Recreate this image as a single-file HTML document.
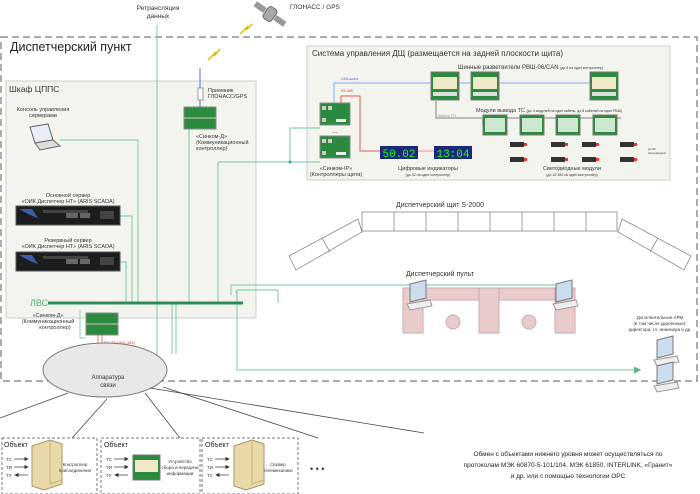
<!DOCTYPE html>
<html><head><meta charset="utf-8"><style>
body{margin:0;background:#fff;}
svg{display:block;font-family:"Liberation Sans",Arial,sans-serif;}
</style></head><body>
<svg width="700" height="494" viewBox="0 0 700 494" xmlns="http://www.w3.org/2000/svg">
<defs>
<marker id="ag" markerWidth="6" markerHeight="6" refX="5" refY="3" orient="auto"><path d="M0,0 L6,3 L0,6z" fill="#5fb88a"/></marker>
<marker id="ak" markerWidth="6" markerHeight="6" refX="5" refY="3" orient="auto"><path d="M0,0 L6,3 L0,6z" fill="#333"/></marker>
<g id="board"><rect width="30" height="22" fill="#2b8a3e" stroke="#888"/><rect x="2" y="3" width="4" height="4" fill="#ccc"/><rect x="8" y="3" width="4" height="4" fill="#ccc"/><rect x="2" y="15" width="4" height="4" fill="#ccc"/><rect x="16" y="16" width="10" height="3" fill="#eee"/></g>
<g id="rvsh"><rect width="28" height="28" fill="#2b8a3e" stroke="#777"/><rect x="2" y="5" width="24" height="12" fill="#efe9c8"/><rect x="2" y="20" width="24" height="4" fill="#ddd"/></g>
<g id="mod"><rect width="24" height="20" fill="#2b8a3e" stroke="#777"/><rect x="2" y="3" width="20" height="14" fill="#cde6cf"/></g>
<g id="led"><rect width="14" height="5" fill="#333"/><rect x="14" y="1" width="3" height="3" fill="#e33"/></g>
<g id="server"><rect width="104" height="19" fill="#1d1d1f" stroke="#555"/><path d="M3,3 L16,3 L22,12 L14,9z" fill="#3a5fa8"/><rect x="27" y="4" width="45" height="3" fill="#444"/><rect x="50" y="7" width="12" height="5" fill="#666"/><rect x="64" y="7" width="10" height="5" fill="#666"/><rect x="84" y="5" width="14" height="8" fill="#444"/></g>
<g id="tower"><path d="M0,6 L18,0 L30,4 L30,44 L12,50 L0,46z" fill="#e9d9a8" stroke="#a89460"/><path d="M18,0 L18,44 L30,40" fill="none" stroke="#c8b47a"/></g>
<g id="mon"><path d="M0,4 L16,0 L16,18 L0,22z" fill="#cde" stroke="#777"/><path d="M-3,24 L20,20 L22,26 L0,30z" fill="#eee" stroke="#999"/></g>
</defs>

<path d="M1,37 L697,37 L697,381 L1,381 Z" fill="none" stroke="#777" stroke-dasharray="7,4" stroke-width="1.2"/>
<text x="10" y="51" font-size="12.5" fill="#222">Диспетчерский пункт</text>

<text x="158" y="10" font-size="6.5" text-anchor="middle" fill="#333">Ретрансляция</text>
<text x="158" y="18" font-size="6.5" text-anchor="middle" fill="#333">данных</text>
<text x="290" y="9" font-size="6.5" fill="#333">ГЛОНАСС / GPS</text>
<g transform="translate(270,14) rotate(35)"><rect x="-5" y="-7" width="10" height="14" rx="3" fill="#aaa" stroke="#666"/><rect x="-18" y="-3" width="12" height="6" fill="#999"/><rect x="6" y="-3" width="12" height="6" fill="#999"/></g>
<path d="M240,34 L248,26 L246,30 L252,24" fill="none" stroke="#d8c000" stroke-width="1.5"/>
<path d="M208,60 L216,52 L214,56 L220,49" fill="none" stroke="#d8c000" stroke-width="1.5"/>

<rect x="6" y="81" width="250" height="237" fill="#f4f4ef" stroke="#ccc"/>
<text x="9" y="92" font-size="8.5" fill="#333">Шкаф ЦППС</text>

<rect x="307" y="46" width="363" height="134" fill="#f4f4ef" stroke="#ccc"/>
<text x="312" y="56" font-size="8" fill="#333">Система управления ДЩ (размещается на задней плоскости щита)</text>

<g fill="none" stroke="#8fd0ad" stroke-width="1.2">
<path d="M157,25 L157,360"/>
<path d="M60,140 L138,140 L138,303"/>
<path d="M120,216 L132,216 L132,303"/>
<path d="M120,262 L126,262 L126,303"/>
<path d="M189,128 L189,303"/>
<path d="M218,162 L290,162 L290,128 L320,128"/>
<path d="M290,162 L320,162"/>
<path d="M218,162 L218,303"/>
<path d="M231,295 L231,285 L410,285 L560,285"/>
<path d="M237,300 L237,290 L278,290 L278,303"/>
<path d="M172,303 L172,354 M176,303 L176,354"/>
<path d="M235,292 L237,292 L237,370 L640,370" marker-end="url(#ag)"/>
</g>
<circle cx="290" cy="162" r="1.5" fill="#3a9"/>
<text x="30" y="306" font-size="9" fill="#4ab070">ЛВС</text>
<line x1="48" y1="303" x2="243" y2="303" stroke="#2e8b57" stroke-width="3"/>

<text x="43" y="111" font-size="5.5" text-anchor="middle" fill="#333">Консоль управления</text>
<text x="43" y="117" font-size="5.5" text-anchor="middle" fill="#333">серверами</text>
<path d="M30,127 L48,124 L53,140 L35,143z" fill="#e8eef6" stroke="#666"/>
<path d="M35,143 L53,140 L60,146 L40,150z" fill="#ddd" stroke="#666"/>

<text x="68" y="197" font-size="5.5" text-anchor="middle" fill="#333">Основной сервер</text>
<text x="68" y="203" font-size="5.5" text-anchor="middle" fill="#333">«ОИК Диспетчер НТ» (ARIS SCADA)</text>
<use href="#server" x="16" y="206"/>
<text x="68" y="242" font-size="5.5" text-anchor="middle" fill="#333">Резервный сервер</text>
<text x="68" y="248" font-size="5.5" text-anchor="middle" fill="#333">«ОИК Диспетчер НТ»  (ARIS SCADA)</text>
<use href="#server" x="16" y="252"/>

<line x1="200" y1="68" x2="200" y2="107" stroke="#4a6fd0" stroke-width="1"/>
<rect x="198" y="88" width="5" height="12" fill="#fff" stroke="#999"/>
<text x="208" y="92" font-size="5.5" fill="#333">Приемник</text>
<text x="208" y="98" font-size="5.5" fill="#333">ГЛОНАСС/GPS</text>
<rect x="184" y="107" width="32" height="22" fill="#2b8a3e" stroke="#888"/>
<line x1="184" y1="118" x2="216" y2="118" stroke="#ccc"/>
<text x="196" y="138" font-size="5.5" fill="#333">«Синком-Д»</text>
<text x="196" y="144" font-size="5.5" fill="#333">(Коммуникационный</text>
<text x="196" y="150" font-size="5.5" fill="#333">контроллер)</text>

<text x="48" y="317" font-size="5.5" text-anchor="middle" fill="#333">«Синком-Д»</text>
<text x="48" y="323" font-size="5.5" text-anchor="middle" fill="#333">(Коммуникационный</text>
<text x="55" y="329" font-size="5.5" text-anchor="middle" fill="#333">контроллер)</text>
<rect x="86" y="313" width="32" height="22" fill="#2b8a3e" stroke="#888"/>
<line x1="86" y1="324" x2="118" y2="324" stroke="#ccc"/>
<path d="M80,310 L80,338 L86,338" fill="none" stroke="#8fd0ad"/>
<path d="M98,335 L98,360 M102,335 L102,360" stroke="#e55" stroke-width="0.8"/>
<text x="104" y="344" font-size="4" fill="#e33">RS-232 (RS-485)</text>

<ellipse cx="105" cy="370" rx="62" ry="27" fill="#e8e8e8" stroke="#777"/>
<text x="108" y="379" font-size="6" text-anchor="middle" fill="#333">Аппаратура</text>
<text x="108" y="387" font-size="6" text-anchor="middle" fill="#333">связи</text>
<g stroke="#444" stroke-width="0.8">
<line x1="68" y1="393" x2="0" y2="418"/>
<line x1="107" y1="399" x2="72" y2="438"/>
<line x1="145" y1="393" x2="180" y2="438"/>
<line x1="163" y1="387" x2="318" y2="438"/>
<line x1="150" y1="388" x2="424" y2="433"/>
</g>

<text x="458" y="69" font-size="6" fill="#333">Шинные разветвители РВШ-06/CAN <tspan font-size="3.5">(до 8 на один контроллер)</tspan></text>
<use href="#rvsh" x="431" y="72"/>
<use href="#rvsh" x="471" y="72"/>
<use href="#rvsh" x="590" y="72"/>
<path d="M334,109 L334,83 L431,83 M459,83 L471,83 M499,83 L590,83" fill="none" stroke="#8aa6f0" stroke-width="1"/>
<text x="341" y="80" font-size="3.5" fill="#4a6fd0">CAN-шина</text>
<path d="M341,109 L341,96 L360,96 L360,151 L382,151" fill="none" stroke="#f07070" stroke-width="1.2"/>
<path d="M418,151 L435,151" stroke="#f0a0a0" stroke-width="1.2"/>
<text x="341" y="92" font-size="3.5" fill="#e33">RS-485</text>
<path d="M436,100 L436,118 L483,118 L483,125 M483,118 L621,118" fill="none" stroke="#bbb" stroke-width="2"/>
<text x="438" y="117" font-size="3.5" fill="#999">Кабель TTL</text>
<text x="476" y="112" font-size="5.5" fill="#333">Модули вывода ТС <tspan font-size="3.5">(до 4 модулей на один кабель, до 8 кабелей на один РВШ)</tspan></text>
<use href="#mod" x="483" y="115"/><use href="#mod" x="520" y="115"/><use href="#mod" x="556" y="115"/><use href="#mod" x="593" y="115"/>
<use href="#led" x="510" y="142"/><use href="#led" x="510" y="157"/>
<use href="#led" x="551" y="142"/><use href="#led" x="551" y="157"/>
<use href="#led" x="582" y="142"/><use href="#led" x="582" y="157"/>
<use href="#led" x="620" y="142"/><use href="#led" x="620" y="157"/>
<text x="648" y="150" font-size="3" fill="#333">до 64</text>
<text x="648" y="154" font-size="3" fill="#333">светодиодов</text>
<use href="#board" x="320" y="103"/>
<use href="#board" x="320" y="136"/>
<text x="335" y="133" font-size="7" text-anchor="middle" fill="#333">...</text>
<text x="336" y="170" font-size="5.5" text-anchor="middle" fill="#333">«Синком-IP»</text>
<text x="336" y="176" font-size="5.5" text-anchor="middle" fill="#333">(Контроллеры щита)</text>
<rect x="380" y="146" width="38" height="13" fill="#1a2a7a"/>
<text x="399" y="157" font-size="11" text-anchor="middle" fill="#2f2" font-family="Liberation Mono">50.02</text>
<rect x="434" y="146" width="38" height="13" fill="#1a2a7a"/>
<text x="453" y="157" font-size="11" text-anchor="middle" fill="#2f2" font-family="Liberation Mono">13:04</text>
<text x="428" y="170" font-size="5.5" text-anchor="middle" fill="#333">Цифровые индикаторы</text>
<text x="428" y="176" font-size="3.5" text-anchor="middle" fill="#333">(до 32 на один контроллер)</text>
<text x="572" y="170" font-size="5.5" text-anchor="middle" fill="#333">Светодиодные модули</text>
<text x="572" y="176" font-size="3.5" text-anchor="middle" fill="#333">(до 16 384 на один контроллер)</text>

<text x="440" y="207" font-size="7" text-anchor="middle" fill="#333">Диспетчерский щит S-2000</text>
<g fill="#fff" stroke="#888" stroke-width="0.8">
<rect x="362" y="212" width="255" height="19"/>
<path d="M394,212 V231 M426,212 V231 M458,212 V231 M490,212 V231 M522,212 V231 M554,212 V231 M586,212 V231"/>
<path d="M289,256 L358,219 L362,232 L296,270Z"/>
<path d="M322,238 L330,252"/>
<path d="M622,219 L691,256 L684,270 L618,232Z"/>
<path d="M658,238 L650,252"/>
</g>

<text x="440" y="276" font-size="7" text-anchor="middle" fill="#333">Диспетчерский пульт</text>
<g fill="#e8cccc" stroke="#caa">
<rect x="403" y="288" width="172" height="12"/>
<rect x="403" y="288" width="20" height="45"/>
<rect x="555" y="288" width="20" height="45"/>
<rect x="479" y="288" width="20" height="45"/>
<circle cx="453" cy="322" r="7"/>
<circle cx="529" cy="322" r="7"/>
</g>
<use href="#mon" x="410" y="280"/>
<use href="#mon" x="556" y="280"/>

<text x="660" y="319" font-size="4.5" text-anchor="middle" fill="#333">Дополнительные АРМ</text>
<text x="660" y="325" font-size="4.5" text-anchor="middle" fill="#333">(в том числе удаленные):</text>
<text x="660" y="331" font-size="4.5" text-anchor="middle" fill="#333">директора, гл. инженера и др.</text>
<use href="#mon" x="657" y="336"/>
<use href="#mon" x="657" y="362"/>

<g fill="none" stroke="#777" stroke-dasharray="3,2">
<rect x="2" y="438" width="95" height="56"/>
<rect x="101" y="438" width="99" height="56"/>
<rect x="202" y="438" width="96" height="56"/>
</g>
<g font-size="7" fill="#222">
<text x="4" y="447">Объект</text><text x="104" y="447">Объект</text><text x="205" y="447">Объект</text>
</g>
<g font-size="4.5" fill="#333">
<text x="6" y="461">ТС</text><text x="6" y="469">ТИ</text><text x="6" y="477">ТУ</text>
<text x="106" y="461">ТС</text><text x="106" y="469">ТИ</text><text x="106" y="477">ТУ</text>
<text x="207" y="461">ТС</text><text x="207" y="469">ТИ</text><text x="207" y="477">ТУ</text>
</g>
<g stroke="#333" stroke-width="0.7">
<line x1="14" y1="459" x2="28" y2="459" marker-end="url(#ak)"/><line x1="14" y1="467" x2="28" y2="467" marker-end="url(#ak)"/><line x1="28" y1="475" x2="15" y2="475" marker-end="url(#ak)"/>
<line x1="114" y1="459" x2="128" y2="459" marker-end="url(#ak)"/><line x1="114" y1="467" x2="128" y2="467" marker-end="url(#ak)"/><line x1="128" y1="475" x2="115" y2="475" marker-end="url(#ak)"/>
<line x1="215" y1="459" x2="229" y2="459" marker-end="url(#ak)"/><line x1="215" y1="467" x2="229" y2="467" marker-end="url(#ak)"/><line x1="229" y1="475" x2="216" y2="475" marker-end="url(#ak)"/>
</g>
<use href="#tower" x="32" y="440"/>
<use href="#tower" x="234" y="440"/>
<rect x="133" y="455" width="27" height="25" fill="#2b8a3e" stroke="#777"/><rect x="135" y="460" width="23" height="12" fill="#efe9c8"/>
<g font-size="4.5" fill="#333" text-anchor="middle">
<text x="75" y="466">Контроллер</text><text x="75" y="472">присоединения</text>
<text x="180" y="463">Устройство</text><text x="180" y="469">сбора и передачи</text><text x="180" y="475">информации</text>
<text x="278" y="466">Сервер</text><text x="278" y="472">телемеханики</text>
</g>
<text x="310" y="472" font-size="9" fill="#333">• • •</text>
<g font-size="6.5" fill="#222" text-anchor="middle">
<text x="568" y="456">Обмен с объектами нижнего уровня может осуществляться по</text>
<text x="568" y="467">протоколам МЭК 60870-5-101/104, МЭК 61850, INTERLINK, «Гранит»</text>
<text x="568" y="478">и др. или с помощью технологии OPC</text>
</g>
</svg>
</body></html>
